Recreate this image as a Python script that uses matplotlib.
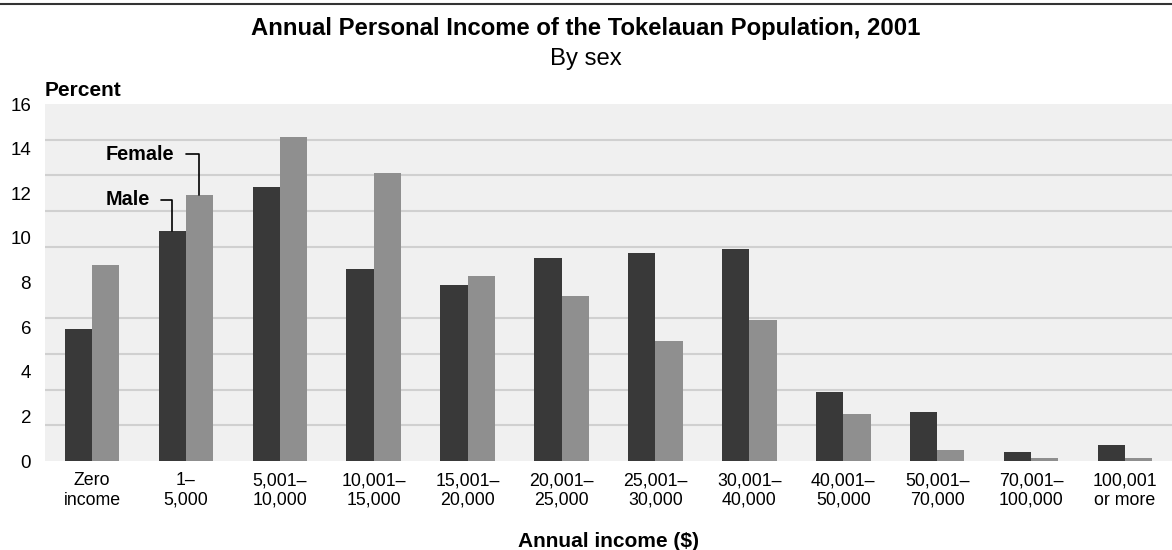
import numpy as np
import matplotlib
matplotlib.use("Agg")
import matplotlib.pyplot as plt

plt.rcParams['font.family'] = ['Liberation Sans', 'DejaVu Sans']

categories = ["Zero\nincome", "1\u2013\n5,000", "5,001\u2013\n10,000", "10,001\u2013\n15,000",
              "15,001\u2013\n20,000", "20,001\u2013\n25,000", "25,001\u2013\n30,000",
              "30,001\u2013\n40,000", "40,001\u2013\n50,000", "50,001\u2013\n70,000",
              "70,001\u2013\n100,000", "100,001\nor more"]
male = [5.9, 10.3, 12.3, 8.6, 7.9, 9.1, 9.3, 9.5, 3.1, 2.2, 0.4, 0.7]
female = [8.8, 11.9, 14.5, 12.9, 8.3, 7.4, 5.4, 6.3, 2.1, 0.5, 0.15, 0.15]
yticks = [0, 2, 4, 6, 8, 10, 12, 14, 16]

male_color = '#393939'
female_color = '#8f8f8f'

fig = plt.figure(figsize=(11.72, 5.5), dpi=100)
ax = fig.add_axes([45 / 1172, 89 / 550, 1 - 45 / 1172, 357 / 550])
ax.set_facecolor('#f0f0f0')

x = np.arange(len(categories))
w = 0.29
ax.bar(x - w / 2, male, w, color=male_color, zorder=3)
ax.bar(x + w / 2, female, w, color=female_color, zorder=3)

ax.set_xlim(-0.5, len(categories) - 0.5)
ax.set_ylim(0, 16)
ax.set_yticks(yticks)
# grid in the original is drawn at tenths of the axis, not at the labels
ax.set_yticks(np.linspace(0, 16, 11), minor=True)
ax.grid(axis='y', which='minor', color='#d0d0d0', linewidth=1.5, zorder=1)
ax.tick_params(axis='y', which='both', length=0, pad=10, labelsize=13.5)
ax.set_xticks(x)
ax.set_xticklabels(categories, linespacing=1.2, fontsize=12.8)
ax.tick_params(axis='x', length=0, pad=8)
for s in ax.spines.values():
    s.set_visible(False)

ax.set_xlabel("Annual income ($)", fontsize=15, fontweight='bold', labelpad=17)
ax.text(0, 1.012, "Percent", transform=ax.transAxes, fontsize=15, fontweight='bold',
        ha='left', va='bottom')

fig.text(0.5, 1 - 28 / 550, "Annual Personal Income of the Tokelauan Population, 2001",
         fontsize=17.2, fontweight='bold', ha='center', va='center')
fig.text(0.5, 1 - 59 / 550, "By sex", fontsize=17.2, ha='center', va='center')

# top rule
fig.add_artist(plt.Line2D([0, 1], [1 - 4 / 550, 1 - 4 / 550], color='#333333', linewidth=1.5))

# series labels with leader lines
ax.annotate("Female", xy=(1 + w / 2, female[1]), xytext=(0.88, 13.75),
            fontsize=14.3, fontweight='bold', ha='right', va='center',
            arrowprops=dict(arrowstyle='-', color='black', linewidth=1.2, shrinkA=6, shrinkB=0,
                            connectionstyle='angle,angleA=0,angleB=90,rad=0'))
ax.annotate("Male", xy=(1 - w / 2, male[1]), xytext=(0.62, 11.7),
            fontsize=14.3, fontweight='bold', ha='right', va='center',
            arrowprops=dict(arrowstyle='-', color='black', linewidth=1.2, shrinkA=6, shrinkB=0,
                            connectionstyle='angle,angleA=0,angleB=90,rad=0'))

fig.savefig("out.png", dpi=100)
